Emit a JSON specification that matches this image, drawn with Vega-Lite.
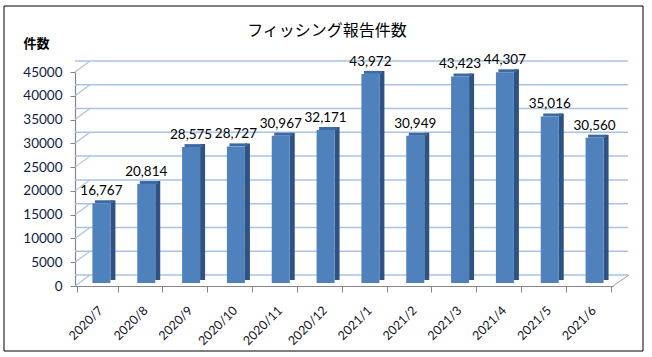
{
  "$schema": "https://vega.github.io/schema/vega-lite/v6.json",
  "autosize": "none",
  "width": 538,
  "height": 214,
  "padding": {"left": 75, "top": 72, "right": 39, "bottom": 71},
  "background": "white",
  "config": {
    "view": {"stroke": null},
    "font": "Lato",
    "axisY": {
      "values": [0, 5000, 10000, 15000, 20000, 25000, 30000, 35000, 40000, 45000],
      "tickCount": 9,
      "format": "d", "grid": false, "labelOverlap": false,
      "labelFont": "Lato", "labelFontSize": 13.5, "labelColor": "#0F1B45",
      "labelPadding": 8, "tickSize": 5, "tickColor": "#868686",
      "domainColor": "#868686", "domainWidth": 1.2,
      "titleAngle": 0, "titleAlign": "left", "titleBaseline": "alphabetic",
      "titleX": -52, "titleY": -25, "titleFont": "Noto Sans CJK JP",
      "titleFontSize": 13, "titleFontWeight": "bold", "titleColor": "black"
    }
  },
  "title": {"text": "フィッシング報告件数", "font": "Noto Sans CJK JP", "fontSize": 16, "fontWeight": "normal", "color": "black", "anchor": "middle", "offset": -33, "dx": -17},
  "datasets": {
    "counts": [
      {"month": "2020/7", "count": 16767},
      {"month": "2020/8", "count": 20814},
      {"month": "2020/9", "count": 28575},
      {"month": "2020/10", "count": 28727},
      {"month": "2020/11", "count": 30967},
      {"month": "2020/12", "count": 32171},
      {"month": "2021/1", "count": 43972},
      {"month": "2021/2", "count": 30949},
      {"month": "2021/3", "count": 43423},
      {"month": "2021/4", "count": 44307},
      {"month": "2021/5", "count": 35016},
      {"month": "2021/6", "count": 30560}
    ],
    "grid": [
      {"level": 0}, {"level": 5000}, {"level": 10000}, {"level": 15000}, {"level": 20000},
      {"level": 25000}, {"level": 30000}, {"level": 35000}, {"level": 40000}, {"level": 45000}
    ]
  },
  "layer": [
    {
      "data": {"values": [{"frame": 1}]},
      "mark": {"type": "rect", "fill": null, "stroke": "black", "strokeWidth": 1},
      "encoding": {"x": {"value": -71}, "x2": {"value": 568}, "y": {"value": -66}, "y2": {"value": 279}}
    },
    {
      "data": {"name": "grid"},
      "mark": {"type": "rule", "color": "#A7C3E6", "strokeWidth": 1.5, "yOffset": -11, "xOffset": 15, "x2Offset": 15},
      "encoding": {
        "y": {"field": "level", "type": "quantitative", "scale": {"domain": [0, 45000], "nice": false}, "title": "件数"}
      }
    },
    {
      "data": {"name": "grid"},
      "mark": {"type": "rule", "color": "#A7C3E6", "strokeWidth": 1.2, "y2Offset": -11},
      "encoding": {
        "x": {"value": 0}, "x2": {"value": 15},
        "y": {"field": "level", "type": "quantitative", "title": "件数"},
        "y2": {"field": "level"}
      }
    },
    {
      "data": {"values": [{"level": 0}]},
      "mark": {"type": "rule", "color": "#A0A0A0", "strokeWidth": 1, "y2Offset": -11},
      "encoding": {
        "x": {"value": 538}, "x2": {"value": 554},
        "y": {"field": "level", "type": "quantitative", "title": "件数"},
        "y2": {"field": "level"}
      }
    },
    {
      "data": {"name": "counts"},
      "layer": [
        {
          "mark": {"type": "bar", "size": 5, "xOffset": 15.5, "yOffset": -6, "y2Offset": -3, "color": "#2E5383"},
          "encoding": {
            "x": {"field": "month", "type": "nominal", "sort": null, "title": null},
            "y": {"field": "count", "type": "quantitative", "title": "件数"}
          }
        },
        {
          "mark": {"type": "bar", "size": 18, "xOffset": 6.5, "yOffset": -6, "y2Offset": -3, "color": "#3D6AA3"},
          "encoding": {
            "x": {"field": "month", "type": "nominal", "sort": null, "title": null},
            "y": {"field": "count", "type": "quantitative", "title": "件数"},
            "y2": {"field": "count"}
          }
        },
        {
          "mark": {"type": "bar", "size": 18, "xOffset": 4, "yOffset": -3, "y2Offset": -3, "color": "#4F81BD"},
          "encoding": {
            "x": {
              "field": "month", "type": "nominal", "sort": null, "title": null,
              "axis": {
                "labelAngle": -45, "labelAlign": "right", "labelBaseline": "middle",
                "labelFont": "Lato", "labelFontSize": 12.5, "labelColor": "#111122",
                "labelPadding": 16, "labelOffset": 3, "tickBand": "extent", "tickSize": 6,
                "tickColor": "#868686", "domainColor": "#868686", "domainWidth": 1.2,
                "labelOverlap": false
              }
            },
            "y": {"field": "count", "type": "quantitative", "title": "件数"}
          }
        },
        {
          "mark": {"type": "text", "xOffset": 4, "yOffset": -3, "dy": -8, "baseline": "alphabetic", "align": "center", "font": "Lato", "fontSize": 13.5, "color": "black"},
          "encoding": {
            "x": {"field": "month", "type": "nominal", "sort": null, "title": null},
            "y": {"field": "count", "type": "quantitative", "title": "件数"},
            "text": {"field": "count", "type": "quantitative", "format": ","}
          }
        }
      ]
    }
  ]
}
